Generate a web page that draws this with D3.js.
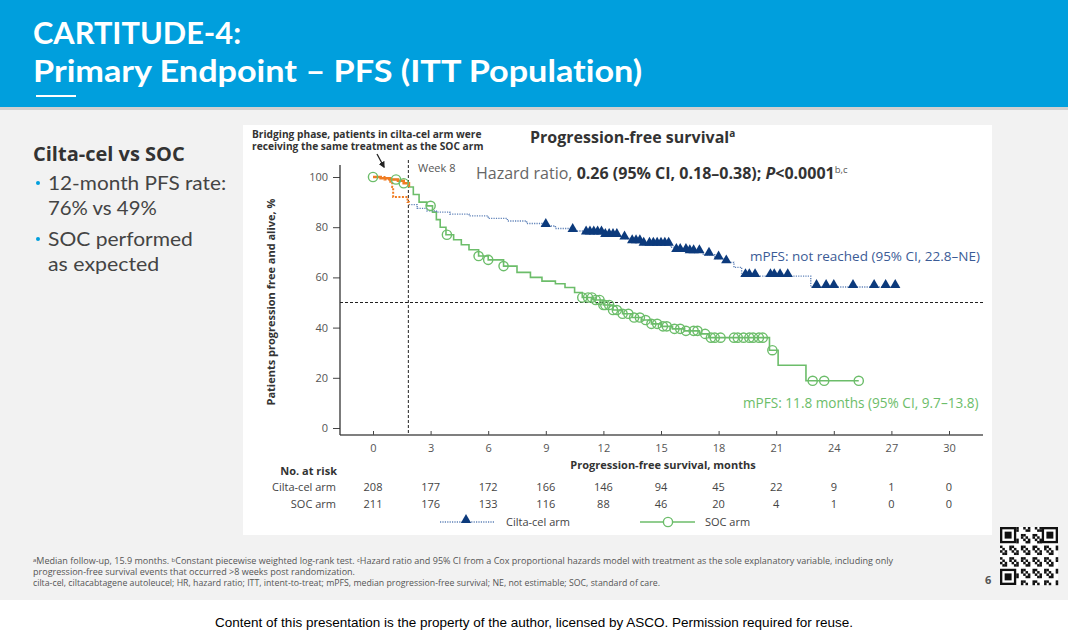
<!DOCTYPE html>
<html><head><meta charset="utf-8">
<script src="https://cdn.jsdelivr.net/npm/d3@7"></script>
<style>
body{margin:0;padding:0;background:#fff;}
svg{display:block;font-family:"Open Sans","Noto Sans",sans-serif;font-variant-ligatures:none;font-feature-settings:"liga" 0,"clig" 0;}
</style></head>
<body>
<svg id="c" width="1068" height="635"></svg>
<script>
// ---------- data ----------
const xTicks = [0,3,6,9,12,15,18,21,24,27,30];
const yTicks = [0,20,40,60,80,100];
const riskCilta = [208,177,172,166,146,94,45,22,9,1,0];
const riskSOC   = [211,176,133,116,88,46,20,4,1,0,0];

// bridging phase (orange), months vs % PFS
const bridgeCilta = [[0,100],[0.6,99],[0.9,97.5],[1.0,96],[1.05,92],[1.75,92],[1.8,90],[1.87,89]];
const bridgeSOC   = [[0,100],[0.4,99.5],[0.9,99],[1.3,98.5],[1.6,97.5],[1.87,96]];

// KM curves after week 8
const ciltaCurve = [[1.87,89],[2.3,87.5],[2.8,86.5],[3.3,86],[4,85.2],[5,84.5],[6,83.5],[7,82.5],[8,81.5],[8.8,80.5],[9.5,79.5],[10.3,78.5],[11,77.5],[12,76.5],[13.1,75.5],[13.4,74],[14,73],[15.5,72],[15.7,70.5],[16.5,70],[17.2,69],[17.8,67.5],[18.3,66],[18.8,64],[19.2,60.5],[22.7,60.5],[22.8,56.2],[27.2,56.2]];
const socCurve = [[0,100],[0.4,99.5],[0.9,99],[1.3,98.5],[1.6,97.5],[1.87,96],[2.1,93],[2.4,90],[2.8,88.5],[3.1,86],[3.3,83],[3.5,80],[3.8,77],[4.2,75],[4.6,73],[5,71],[5.5,68.5],[6,67],[6.8,64.5],[7.5,62],[8.2,60],[8.8,58.5],[9.5,57.5],[10,56],[10.5,54],[10.9,52],[11.5,51],[12,49],[12.5,47],[13,45.5],[13.5,44],[14,43],[14.5,41.5],[15,40.5],[15.6,39.5],[16.2,38.7],[17,37.5],[17.5,36],[20.6,36],[20.65,31],[21.05,31],[21.1,25],[22.5,25],[22.55,18.8],[25.3,18.8]];

// censoring marks (months)
const ciltaCensor = [9.0,10.4,11.1,11.3,11.5,11.7,11.9,12.1,12.3,12.5,12.7,13.1,13.5,13.7,13.9,14.1,14.4,14.6,14.8,15.0,15.2,15.4,15.8,16.0,16.3,16.5,16.7,17.0,17.5,18.0,18.4,19.4,19.6,19.9,20.7,20.9,21.2,21.6,23.1,23.6,24.0,25.0,26.1,26.7,27.2];
const socCensor = [0,1.2,1.6,3.0,3.85,5.5,6.0,6.8,10.9,11.2,11.4,11.6,11.8,12.0,12.1,12.3,12.5,12.7,13.0,13.3,13.6,13.9,14.2,14.5,14.8,15.1,15.3,15.7,16.0,16.3,16.7,16.9,17.3,17.6,17.8,18.1,18.8,19.0,19.3,19.6,19.8,20.1,20.3,20.8,22.9,23.5,25.3];

// ---------- colors ----------
const BLUE_HDR = "#009fdd", NAVY = "#0c3a7c", NAVY_LINE = "#5f82b8", GREEN = "#6cbd6a", ORANGE = "#f07c22";

const svg = d3.select("#c");

// width of a string in Open Sans (used to size the tighter-metric Lato lines)
function measure(str,size,weight){
  const t = svg.append("text").attr("font-family","Open Sans").attr("font-size",size).attr("font-weight",weight).text(str);
  const w = t.node().getComputedTextLength(); t.remove(); return w;
}
function lineText(str,xx,yy,size,weight,fill){
  return svg.append("text").attr("x",xx).attr("y",yy).attr("font-family","Lato, 'Open Sans', sans-serif")
    .attr("font-size",size).attr("font-weight",weight).attr("fill",fill)
    .attr("textLength",measure(str,size,weight)).attr("lengthAdjust","spacingAndGlyphs").text(str);
}

// ---------- page background ----------
svg.append("rect").attr("x",0).attr("y",0).attr("width",1068).attr("height",635).attr("fill","#fff");
svg.append("rect").attr("x",0).attr("y",107).attr("width",1068).attr("height",493).attr("fill","#f2f2f2");
svg.append("rect").attr("x",0).attr("y",107).attr("width",1068).attr("height",3).attr("fill","#d0d0d0");
svg.append("rect").attr("x",0).attr("y",0).attr("width",1068).attr("height",107).attr("fill",BLUE_HDR);
lineText("CARTITUDE-4:",33,44,31,700,"#fff");
lineText("Primary Endpoint – PFS (ITT Population)",33,82,31,700,"#fff");
svg.append("rect").attr("x",36).attr("y",95).attr("width",40).attr("height",2).attr("fill","#fff");

// left panel text
svg.append("text").attr("x",33).attr("y",161).attr("fill","#333").attr("font-size",20).attr("font-weight",700).text("Cilta-cel vs SOC");
const bullets = [[["12-month PFS rate:","76% vs 49%"],190],[["SOC performed","as expected"],246]];
bullets.forEach(b=>{
  svg.append("circle").attr("cx",38).attr("cy",b[1]-7).attr("r",2).attr("fill",BLUE_HDR);
  b[0].forEach((s,i)=>lineText(s,48,b[1]+i*25,20,400,"#444"));
});

// chart panel
svg.append("rect").attr("x",243).attr("y",125).attr("width",749).attr("height",410).attr("fill","#fff");

// ---------- scales ----------
const x = d3.scaleLinear().domain([0,30]).range([373,949]);
const y = d3.scaleLinear().domain([0,100]).range([428,177]);

// axes
const gx = svg.append("g").attr("transform","translate(0,435)")
  .call(d3.axisBottom(x).tickValues(xTicks).tickSize(-4).tickPadding(9));
gx.select(".domain").remove();
gx.selectAll(".tick line").attr("stroke","#444");
gx.selectAll("text").attr("font-size",11).attr("fill","#555").attr("font-family","Open Sans");
svg.append("line").attr("x1",340).attr("x2",983).attr("y1",435).attr("y2",435).attr("stroke","#555").attr("stroke-width",1.5);

const gy = svg.append("g").attr("transform","translate(340,0)")
  .call(d3.axisLeft(y).tickValues(yTicks).tickSize(7).tickPadding(5));
gy.select(".domain").remove();
gy.selectAll(".tick line").attr("stroke","#444");
gy.selectAll("text").attr("font-size",11).attr("fill","#555").attr("font-family","Open Sans");
svg.append("line").attr("x1",340).attr("x2",340).attr("y1",165).attr("y2",435).attr("stroke","#333").attr("stroke-width",1.3);

svg.append("text").attr("transform","translate(275,302) rotate(-90)").attr("text-anchor","middle")
  .attr("font-size",11).attr("font-weight",700).attr("fill","#333").text("Patients progression free and alive, %");
svg.append("text").attr("x",663).attr("y",469).attr("text-anchor","middle").attr("font-size",11).attr("font-weight",700).attr("fill","#333").text("Progression-free survival, months");

// reference lines
svg.append("line").attr("x1",x(8/4.345)).attr("x2",x(8/4.345)).attr("y1",160).attr("y2",435)
  .attr("stroke","#222").attr("stroke-width",1).attr("stroke-dasharray","3,2");
svg.append("line").attr("x1",340).attr("x2",983).attr("y1",y(50)).attr("y2",y(50))
  .attr("stroke","#222").attr("stroke-width",1).attr("stroke-dasharray","3,2");

// ---------- curves ----------
const line = d3.line().x(d=>x(d[0])).y(d=>y(d[1])).curve(d3.curveStepAfter);
svg.append("path").attr("d",line(socCurve)).attr("fill","none").attr("stroke",GREEN).attr("stroke-width",1.6);
svg.append("path").attr("d",line(ciltaCurve)).attr("fill","none").attr("stroke",NAVY_LINE).attr("stroke-width",1.4).attr("stroke-dasharray","1.2,1.2");
svg.append("path").attr("d",line(bridgeCilta)).attr("fill","none").attr("stroke",ORANGE).attr("stroke-width",2).attr("stroke-dasharray","2,1.5");
svg.append("path").attr("d",line(bridgeSOC)).attr("fill","none").attr("stroke",ORANGE).attr("stroke-width",2.6);

function stepVal(curve,t){let v=curve[0][1];for(const p of curve){if(p[0]<=t)v=p[1];else break;}return v;}

svg.append("g").selectAll("circle").data(socCensor).join("circle")
  .attr("cx",d=>x(d)).attr("cy",d=>y(stepVal(socCurve,d))).attr("r",4.6)
  .attr("fill","none").attr("stroke",GREEN).attr("stroke-width",1.4);
const tri = d3.symbol().type(d3.symbolTriangle).size(46);
svg.append("g").selectAll("path").data(ciltaCensor).join("path")
  .attr("d",tri).attr("transform",d=>`translate(${x(d)},${y(stepVal(ciltaCurve,d))-2})`).attr("fill",NAVY);

// ---------- annotations ----------
svg.append("text").attr("x",530).attr("y",143).attr("font-size",16).attr("font-weight",700).attr("fill","#333")
  .text("Progression-free survival").append("tspan").attr("font-size",10).attr("dy",-6).text("a");
const br = svg.append("text").attr("font-size",10.2).attr("font-weight",700).attr("fill","#333");
br.append("tspan").attr("x",252).attr("y",138).text("Bridging phase, patients in cilta-cel arm were");
br.append("tspan").attr("x",252).attr("y",150).text("receiving the same treatment as the SOC arm");
svg.append("defs").append("marker").attr("id","ah").attr("viewBox","0 0 10 10").attr("refX",8).attr("refY",5)
  .attr("markerWidth",5).attr("markerHeight",5).attr("orient","auto")
  .append("path").attr("d","M0,0L10,5L0,10z").attr("fill","#222");
svg.append("line").attr("x1",377).attr("y1",154).attr("x2",384).attr("y2",167).attr("stroke","#222").attr("stroke-width",1.3).attr("marker-end","url(#ah)");
svg.append("text").attr("x",418).attr("y",172).attr("font-size",11).attr("fill","#555").text("Week 8");

const hr = svg.append("text").attr("x",476).attr("y",179).attr("font-size",16).attr("fill","#666");
hr.append("tspan").text("Hazard ratio, ");
hr.append("tspan").attr("font-weight",700).attr("fill","#333").text("0.26 (95% CI, 0.18–0.38); ");
hr.append("tspan").attr("font-weight",700).attr("font-style","italic").attr("fill","#333").text("P");
hr.append("tspan").attr("font-weight",700).attr("fill","#333").text("<0.0001");
hr.append("tspan").attr("font-size",9.5).attr("dy",-6).attr("fill","#555").text("b,c");

svg.append("text").attr("x",750).attr("y",261).attr("font-size",13.5).attr("fill","#3b5b96").text("mPFS: not reached (95% CI, 22.8–NE)");
svg.append("text").attr("x",743).attr("y",408).attr("font-size",13.6).attr("fill",GREEN).text("mPFS: 11.8 months (95% CI, 9.7–13.8)");

// ---------- number at risk ----------
svg.append("text").attr("x",337).attr("y",475).attr("text-anchor","end").attr("font-size",11).attr("font-weight",700).attr("fill","#333").text("No. at risk");
svg.append("text").attr("x",336).attr("y",491).attr("text-anchor","end").attr("font-size",11).attr("fill","#444").text("Cilta-cel arm");
svg.append("text").attr("x",336).attr("y",508).attr("text-anchor","end").attr("font-size",11).attr("fill","#444").text("SOC arm");
svg.append("g").selectAll("text").data(riskCilta).join("text")
  .attr("x",(d,i)=>x(xTicks[i])).attr("y",491).attr("text-anchor","middle").attr("font-size",11).attr("fill","#444").text(d=>d);
svg.append("g").selectAll("text").data(riskSOC).join("text")
  .attr("x",(d,i)=>x(xTicks[i])).attr("y",508).attr("text-anchor","middle").attr("font-size",11).attr("fill","#444").text(d=>d);

// legend
svg.append("line").attr("x1",440).attr("x2",495).attr("y1",522).attr("y2",522).attr("stroke",NAVY_LINE).attr("stroke-width",1.4).attr("stroke-dasharray","1.2,1.2");
svg.append("path").attr("d",tri).attr("transform","translate(466,520)").attr("fill",NAVY);
svg.append("text").attr("x",506).attr("y",526).attr("font-size",11).attr("fill","#444").text("Cilta-cel arm");
svg.append("line").attr("x1",640).attr("x2",695).attr("y1",522).attr("y2",522).attr("stroke",GREEN).attr("stroke-width",1.6);
svg.append("circle").attr("cx",668).attr("cy",522).attr("r",4.6).attr("fill","#fff").attr("stroke",GREEN).attr("stroke-width",1.4);
svg.append("text").attr("x",705).attr("y",526).attr("font-size",11).attr("fill","#444").text("SOC arm");

// ---------- footer ----------
const fn = [
 ["ᵃMedian follow-up, 15.9 months. ᵇConstant piecewise weighted log-rank test. ᶜHazard ratio and 95% CI from a Cox proportional hazards model with treatment as the sole explanatory variable, including only",860],
 ["progression-free survival events that occurred >8 weeks post randomization.",322],
 ["cilta-cel, ciltacabtagene autoleucel; HR, hazard ratio; ITT, intent-to-treat; mPFS, median progression-free survival; NE, not estimable; SOC, standard of care.",627]];
const ft = svg.append("text").attr("font-size",8.6).attr("fill","#555");
fn.forEach((t,i)=>ft.append("tspan").attr("x",33).attr("y",564+i*11)
  .attr("textLength",t[1]).attr("lengthAdjust","spacingAndGlyphs").text(t[0]));
svg.append("text").attr("x",985).attr("y",584).attr("font-size",11).attr("font-weight",700).attr("fill","#555").text("6");

// QR-like decoration
const qr = svg.append("g").attr("transform","translate(1000,527)");
qr.append("rect").attr("width",58).attr("height",58).attr("fill","#fff");
const N=25, cs=58/N;
for(let r=0;r<N;r++)for(let c=0;c<N;c++){
  const inF=(r<7&&c<7)||(r<7&&c>=N-7)||(r>=N-7&&c<7);
  if(inF) continue;
  if(((r*7+c*13+r*c)%5)<2) qr.append("rect").attr("x",c*cs).attr("y",r*cs).attr("width",cs+0.2).attr("height",cs+0.2).attr("fill","#111");
}
[[0,0],[N-7,0],[0,N-7]].forEach(([c,r])=>{
  qr.append("rect").attr("x",c*cs).attr("y",r*cs).attr("width",7*cs).attr("height",7*cs).attr("fill","#111");
  qr.append("rect").attr("x",(c+1)*cs).attr("y",(r+1)*cs).attr("width",5*cs).attr("height",5*cs).attr("fill","#fff");
  qr.append("rect").attr("x",(c+2)*cs).attr("y",(r+2)*cs).attr("width",3*cs).attr("height",3*cs).attr("fill","#111");
});

svg.append("text").attr("x",534).attr("y",627).attr("text-anchor","middle").attr("font-size",13.5)
  .attr("font-family","Liberation Sans, Arial, sans-serif").attr("fill","#000")
  .text("Content of this presentation is the property of the author, licensed by ASCO. Permission required for reuse.");
</script>
</body></html>
